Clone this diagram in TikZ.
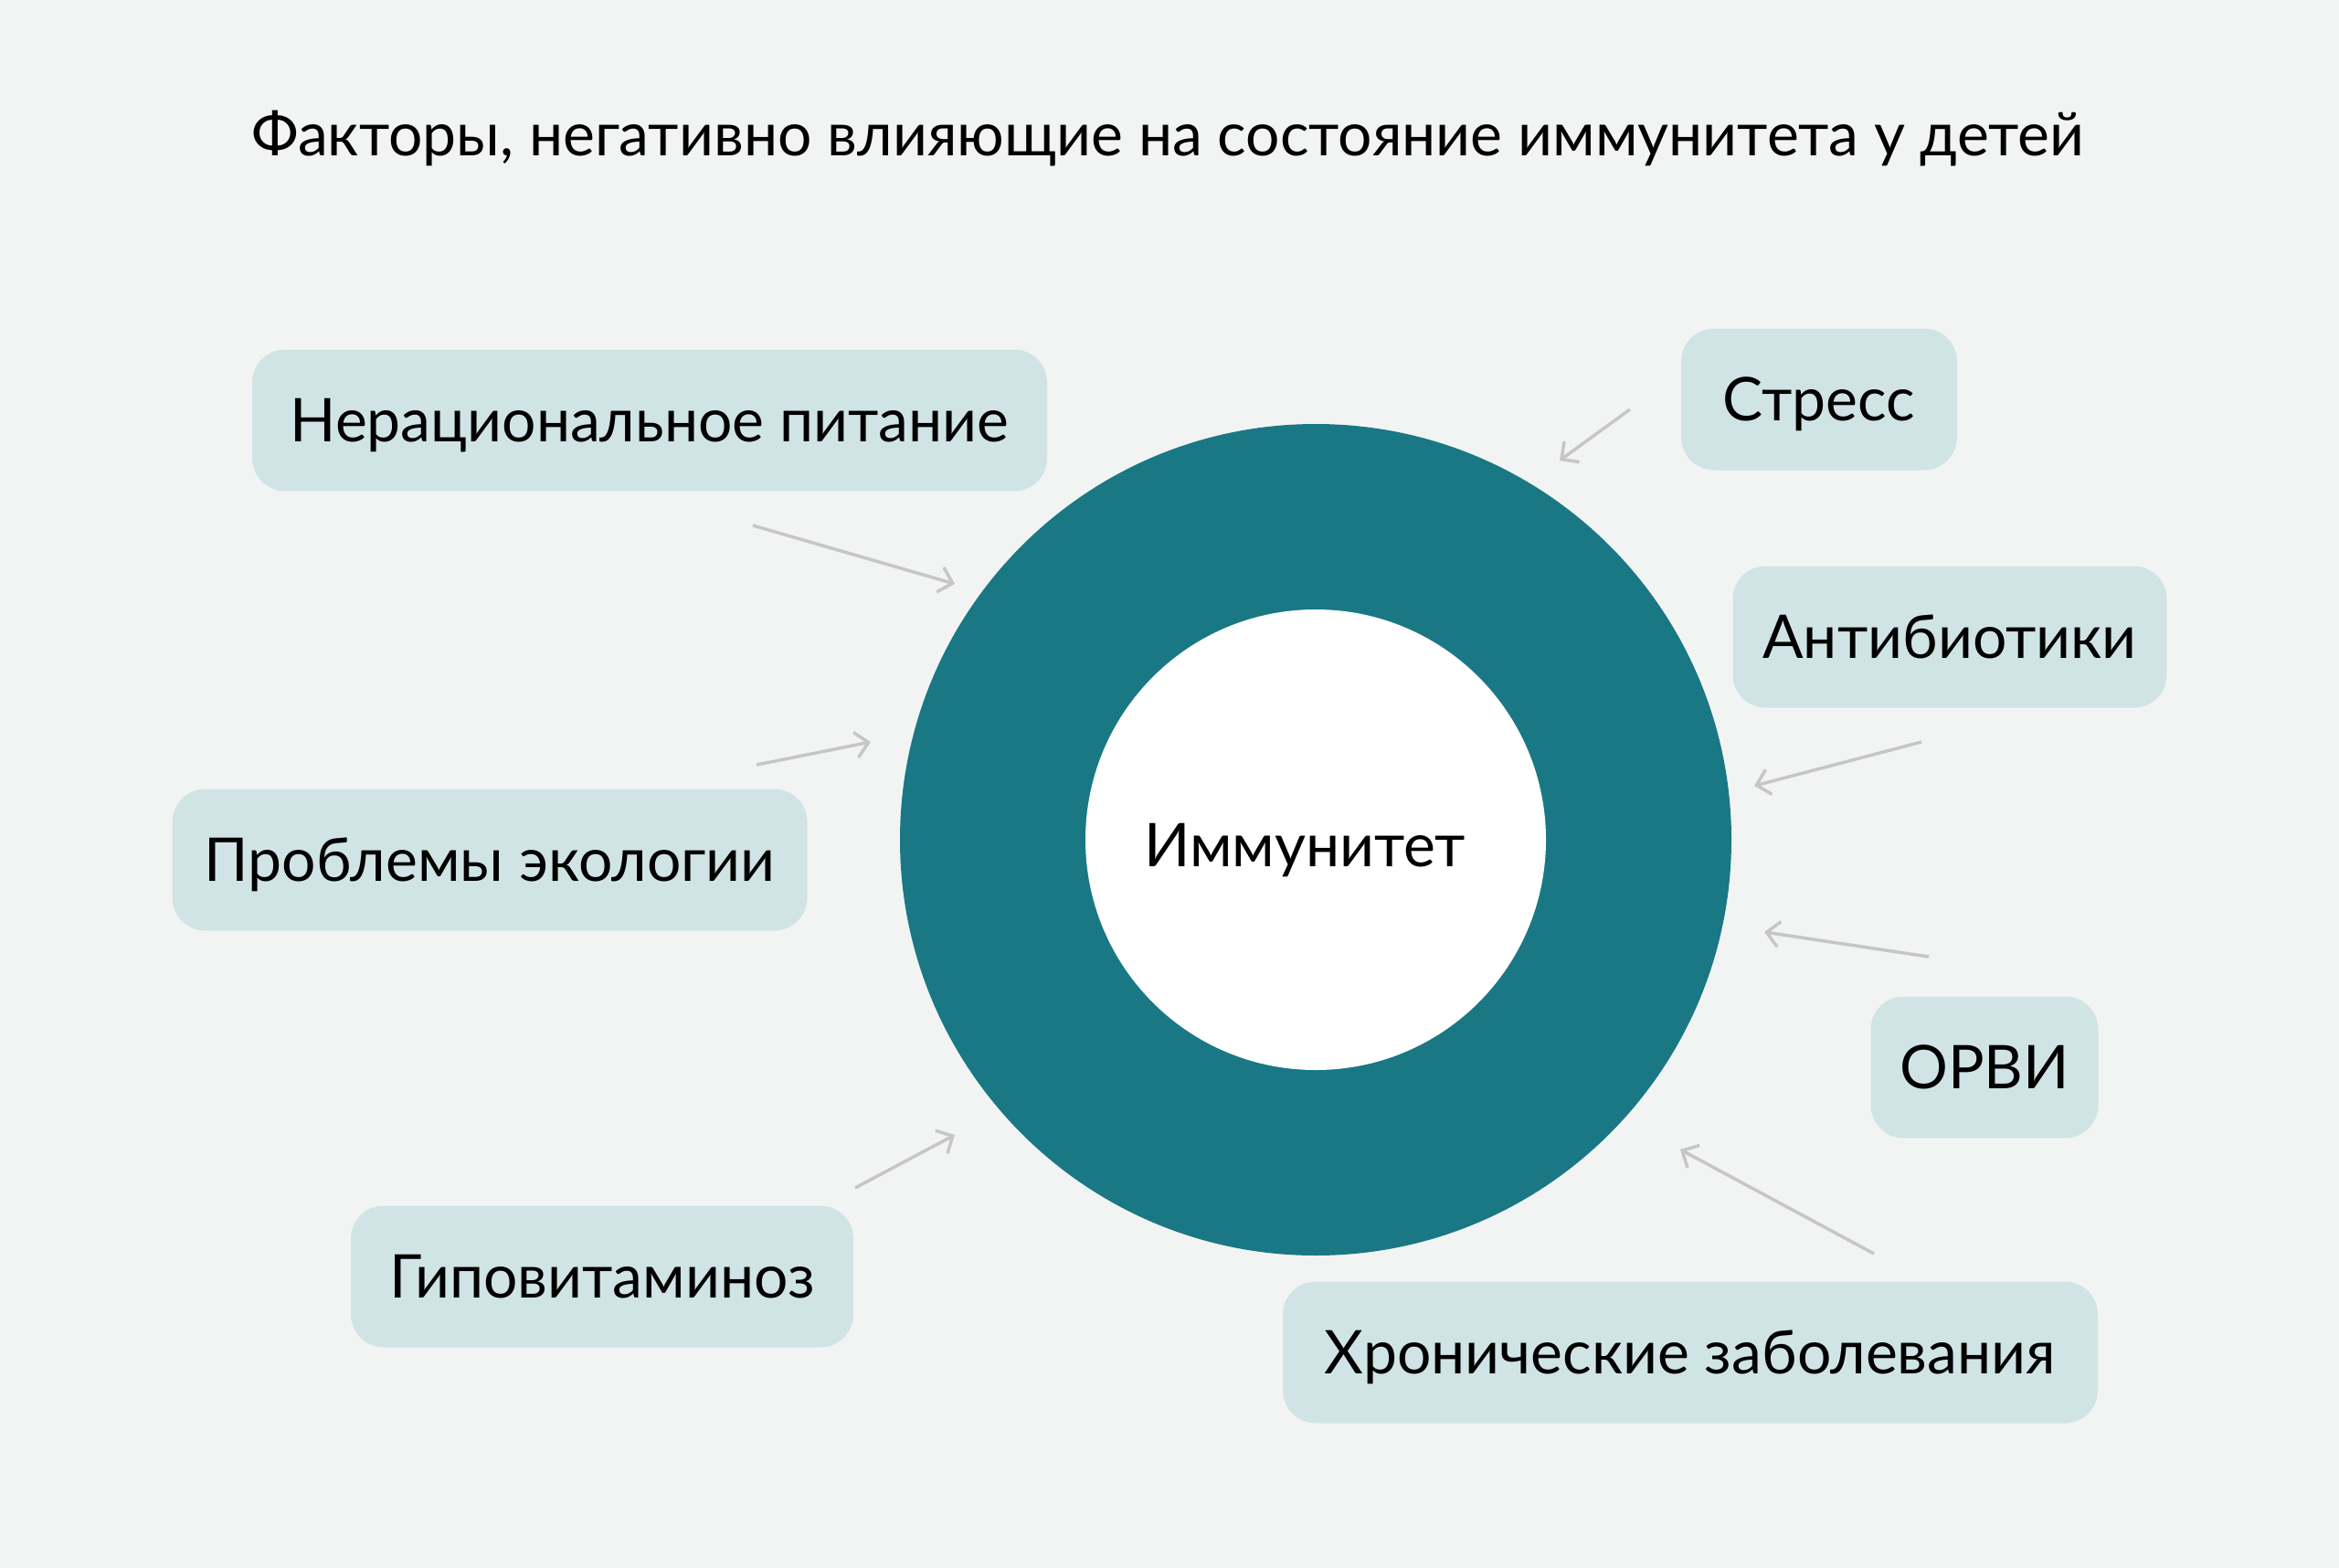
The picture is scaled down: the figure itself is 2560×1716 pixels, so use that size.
\documentclass[tikz,border=0pt]{standalone}
\usepackage{fontspec}
\setmainfont{Lato}
\usetikzlibrary{arrows.meta}
\definecolor{bgc}{HTML}{F2F4F3}
\definecolor{teal}{HTML}{197884}
\definecolor{boxc}{HTML}{D1E4E5}
\definecolor{arrc}{HTML}{C6C6C6}
\begin{document}
\begin{tikzpicture}[x=1pt,y=-1pt,
  txt/.style={font=\fontsize{66}{80}\selectfont, text=black, inner sep=0pt},
  factor/.style={txt, fill=boxc, rounded corners=36pt, minimum height=155pt,
    text height=47pt, text depth=0pt},
  arr/.style={draw=arrc, line width=3.5pt, -{Straight Barb[length=14pt,width=28pt,line width=3.5pt]}}]
\fill[bgc] (0,0) rectangle (2560,1716);
\useasboundingbox (0,0) rectangle (2560,1716);
\node[txt, anchor=base] (title) at (1278,170) {Факторы, негативно влияющие на состояние иммунитета у детей};
\node[circle, fill=teal, minimum size=910pt, inner sep=0pt] (ring) at (1440,919) {};
\node[circle, fill=white, minimum size=504pt, inner sep=0pt] (core) at (1440,919) {};
\node[txt, anchor=base] (imm) at (1428,948) {Иммунитет};
\node[factor, minimum width=870pt] (f1) at (711,460) {Нерациональное питание};
\node[factor, minimum width=302pt] (f2) at (1991,437) {Стресс};
\node[factor, minimum width=475pt] (f3) at (2134,697) {Антибиотики};
\node[factor, minimum width=695pt] (f4) at (536,941) {Проблемы экологии};
\node[factor, minimum width=249pt] (f5) at (2172,1168) {ОРВИ};
\node[factor, minimum width=550pt] (f6) at (659,1397) {Гиповитаминоз};
\node[factor, minimum width=892pt] (f7) at (1850,1480) {Хронические заболевания};
\coordinate (s1) at (824,575);  \coordinate (e1) at (1045,639);
\coordinate (s2) at (1784,448); \coordinate (e2) at (1707,504);
\coordinate (s3) at (2103,812); \coordinate (e3) at (1920,860);
\coordinate (s4) at (828,837);  \coordinate (e4) at (953,812);
\coordinate (s5) at (2111,1047);\coordinate (e5) at (1931,1020);
\coordinate (s6) at (936,1300); \coordinate (e6) at (1045,1242);
\coordinate (s7) at (2051,1372);\coordinate (e7) at (1839,1258);
\foreach \i in {1,...,7} {\draw[arr] (s\i) -- (e\i);}
\end{tikzpicture}
\end{document}
